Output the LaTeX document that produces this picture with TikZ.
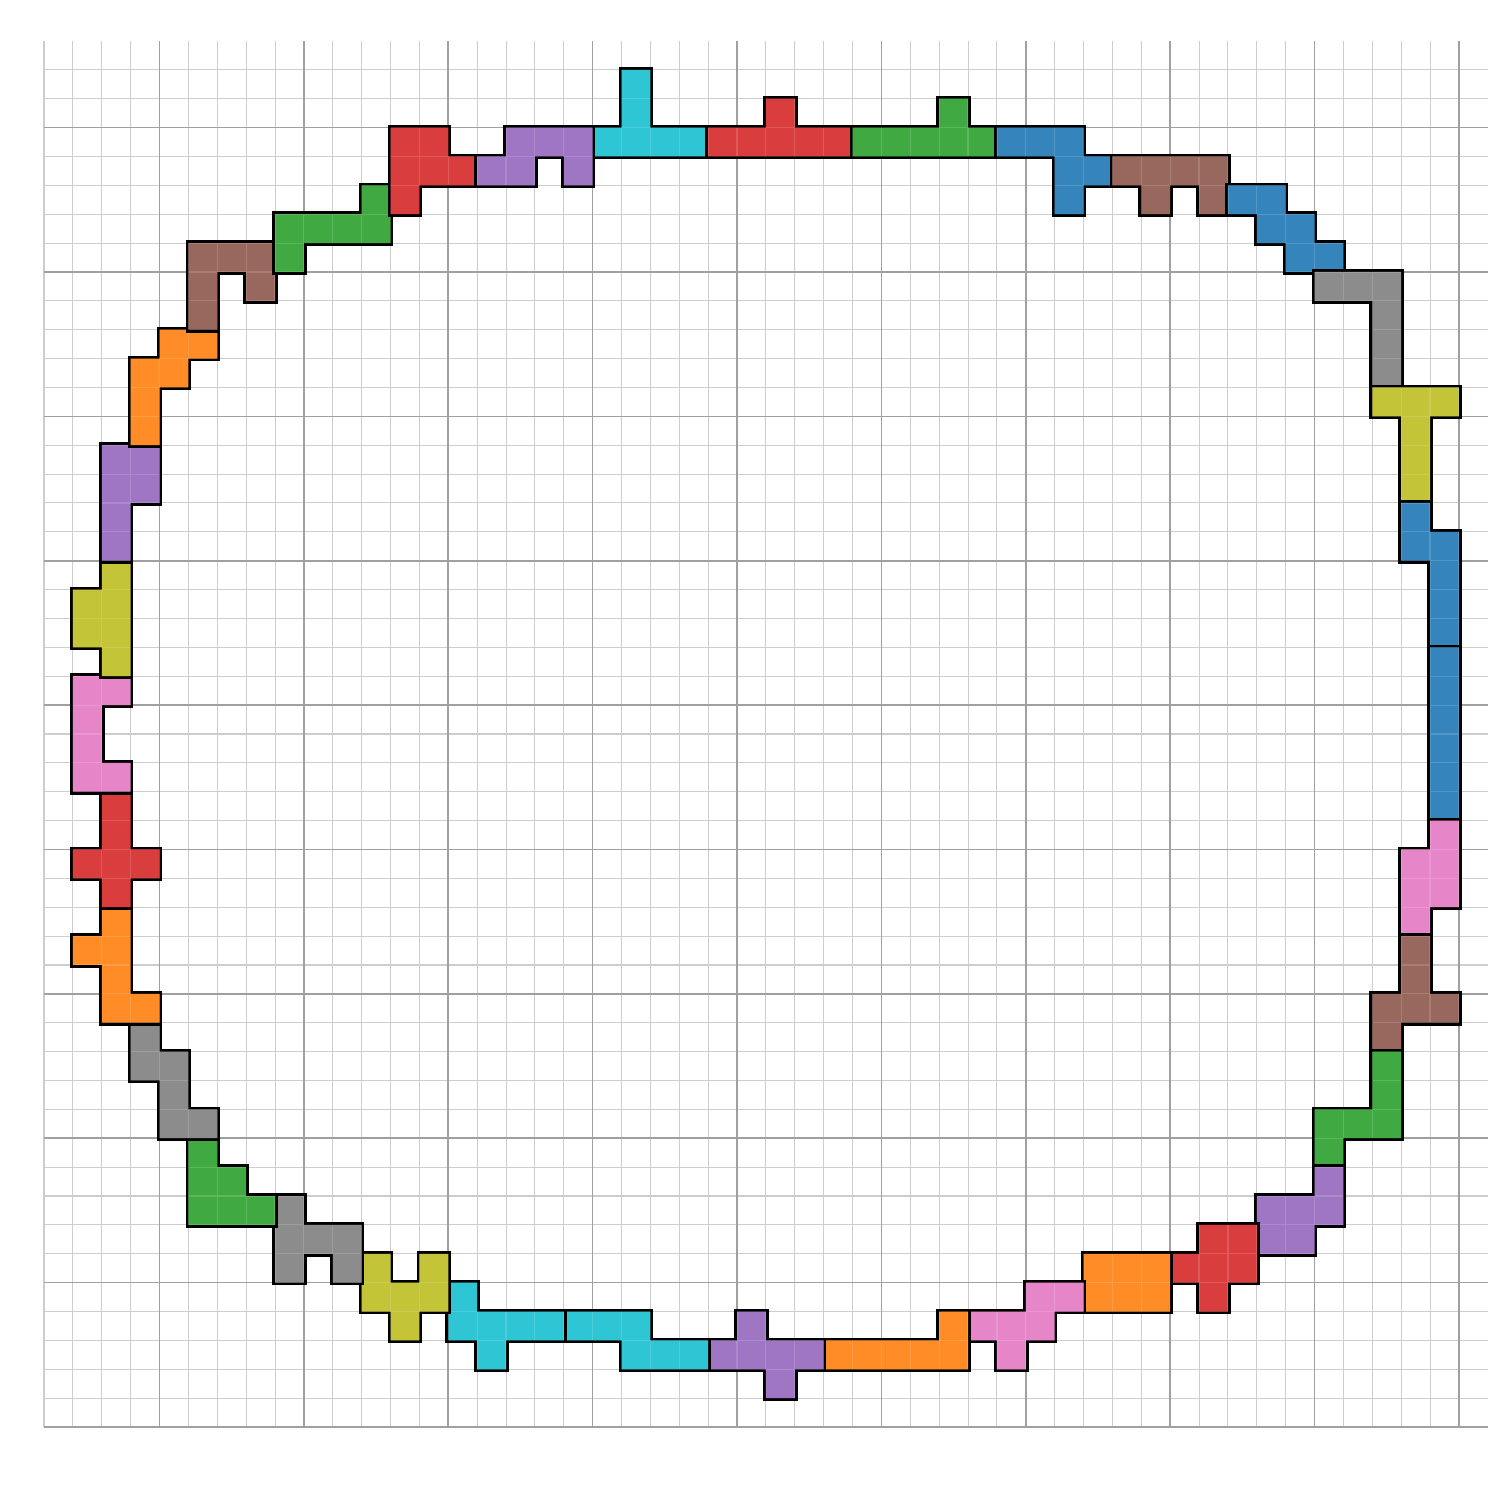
\documentclass[tikz,border=0pt]{standalone}
\definecolor{tblue}{RGB}{53,133,188}
\definecolor{torange}{RGB}{255,140,38}
\definecolor{tgreen}{RGB}{65,169,65}
\definecolor{tred}{RGB}{218,61,61}
\definecolor{tpurple}{RGB}{159,118,196}
\definecolor{tbrown}{RGB}{152,103,93}
\definecolor{tpink}{RGB}{230,133,200}
\definecolor{tgray}{RGB}{140,140,140}
\definecolor{tolive}{RGB}{195,196,56}
\definecolor{tcyan}{RGB}{46,197,212}
\definecolor{gminor}{RGB}{205,205,205}
\definecolor{gmajor}{RGB}{160,160,160}
\newcommand{\piece}[2]{%
  \draw[line width=2.8pt,line join=miter] \foreach \c/\r in {#2}{(\c,48-\r) rectangle ++(1,-1)};
  \fill[#1] \foreach \c/\r in {#2}{(\c,48-\r) rectangle ++(1,-1)};
  \begin{scope}
    \clip \foreach \c/\r in {#2}{(\c,48-\r) rectangle ++(1,-1)};
    \draw[white,opacity=0.15,line width=0.6pt] \foreach \c/\r in {#2}{(\c,48-\r) rectangle ++(1,-1)};
  \end{scope}}
\tikzset{minorgrid/.style={gminor,line width=0.5pt},majorgrid/.style={gmajor,line width=0.8pt}}
\begin{document}
\begin{tikzpicture}[x=0.5cm,y=0.5cm]
\fill[white] (-1.524,-2.528) rectangle (50.42,49.42);
\useasboundingbox (-1.524,-2.528) rectangle (50.42,49.42);
% grid
\foreach \x in {0,...,49}{\draw[minorgrid] (\x,0) -- (\x,48);}
\foreach \y in {0,...,47}{\draw[minorgrid] (0,\y) -- (50,\y);}
\foreach \x in {4,9,...,49}{\draw[majorgrid] (\x,0) -- (\x,48);}
\foreach \y in {0,5,...,45}{\draw[majorgrid] (0,\y) -- (50,\y);}
% pieces
\piece{tcyan}{19/3,20/3,21/3,22/3,20/1,20/2}
\piece{tred}{23/3,24/3,25/3,26/3,27/3,25/2}
\piece{tgreen}{28/3,29/3,30/3,31/3,32/3,31/2}
\piece{tblue}{33/3,34/3,35/3,35/4,36/4,35/5}
\piece{tbrown}{37/4,38/4,39/4,40/4,38/5,40/5}
\piece{tblue}{41/5,42/5,42/6,43/6,43/7,44/7}
\piece{tgray}{44/8,45/8,46/8,46/9,46/10,46/11}
\piece{tolive}{46/12,47/12,48/12,47/13,47/14,47/15}
\piece{tblue}{47/16,47/17,48/17,48/18,48/19,48/20}
\piece{tblue}{48/21,48/22,48/23,48/24,48/25,48/26}
\piece{tpink}{48/27,48/28,48/29,47/28,47/29,47/30}
\piece{tbrown}{47/31,47/32,46/33,47/33,48/33,46/34}
\piece{tgreen}{46/35,46/36,46/37,45/37,44/37,44/38}
\piece{tpurple}{44/39,42/40,43/40,44/40,42/41,43/41}
\piece{tred}{40/41,41/41,39/42,40/42,41/42,40/43}
\piece{torange}{36/42,37/42,38/42,36/43,37/43,38/43}
\piece{tpink}{34/43,35/43,32/44,33/44,34/44,33/45}
\piece{torange}{31/44,27/45,28/45,29/45,30/45,31/45}
\piece{tpurple}{24/44,23/45,24/45,25/45,26/45,25/46}
\piece{tcyan}{18/44,19/44,20/44,20/45,21/45,22/45}
\piece{tcyan}{14/43,14/44,15/44,16/44,17/44,15/45}
\piece{tolive}{11/42,11/43,13/42,13/43,12/43,12/44}
\piece{tgray}{8/40,8/41,8/42,9/41,10/41,10/42}
\piece{tgreen}{5/38,5/39,5/40,6/39,6/40,7/40}
\piece{tgray}{3/34,3/35,4/35,4/36,4/37,5/37}
\piece{torange}{2/30,2/31,2/32,2/33,1/31,3/33}
\piece{tred}{2/26,2/27,2/28,2/29,1/28,3/28}
\piece{tpink}{1/22,2/22,1/23,1/24,1/25,2/25}
\piece{tolive}{2/18,2/19,2/20,2/21,1/19,1/20}
\piece{tpurple}{2/14,3/14,2/15,3/15,2/16,2/17}
\piece{torange}{4/10,5/10,3/11,4/11,3/12,3/13}
\piece{tbrown}{5/7,6/7,7/7,5/8,5/9,7/8}
\piece{tgreen}{8/6,9/6,10/6,11/6,8/7,11/5}
\piece{tred}{12/3,13/3,12/4,13/4,14/4,12/5}
\piece{tpurple}{16/3,17/3,18/3,15/4,16/4,18/4}
\end{tikzpicture}
\end{document}
